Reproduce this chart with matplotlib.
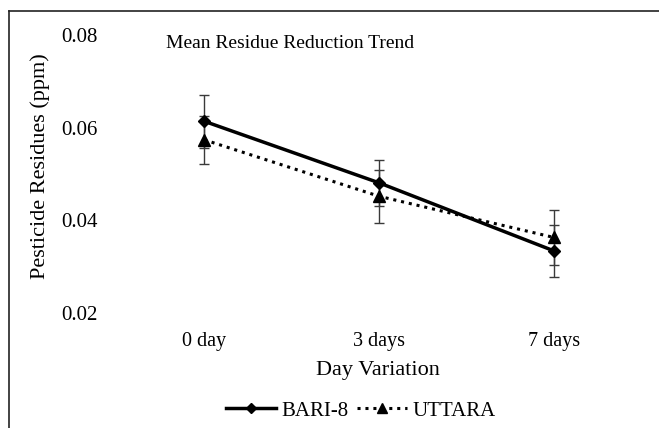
import numpy as np
import matplotlib.pyplot as plt
from matplotlib.lines import Line2D

days = ['0 day', '3 days', '7 days']
bari8 = [0.0614, 0.0481, 0.0334]
bari8_err = [0.0057, 0.0050, 0.0057]
uttara = [0.0574, 0.0452, 0.0363]
uttara_err = [0.0052, 0.0057, 0.0060]

plt.rcParams['font.family'] = ['Liberation Serif', 'DejaVu Serif']

fig = plt.figure(figsize=(6.59, 4.28), dpi=100)
ax = fig.add_axes([116.5/659, 1-313/428, 525/659, 278/428])

x = np.arange(len(days))
ax.errorbar(x, bari8, yerr=bari8_err, fmt='none', ecolor='#3a3a3a', elinewidth=1,
            capsize=3.5, capthick=1, zorder=2)
ax.errorbar(x, uttara, yerr=uttara_err, fmt='none', ecolor='#3a3a3a', elinewidth=1,
            capsize=3.5, capthick=1, zorder=2)
ax.plot(x, bari8, color='black', lw=2.5, marker='D', ms=6.5, zorder=3)
ax.plot(x, uttara, color='black', lw=2.2, ls=(0, (1, 1.6)), marker='^', ms=8, zorder=3)

ax.set_xlim(-0.5, 2.5)
ax.set_ylim(0.02, 0.08)
ax.set_yticks([0.02, 0.04, 0.06, 0.08])
ax.set_yticklabels(['0.02', '0.04', '0.06', '0.08'])
ax.set_xticks(x)
ax.set_xticklabels(days)
for s in ax.spines.values():
    s.set_visible(False)
ax.tick_params(length=0)
ax.tick_params(axis='y', pad=13.5, labelsize=15)
ax.tick_params(axis='x', pad=14, labelsize=14.5)

fig.text(40/659, 1-166/428, 'Pesticide Residues (ppm)', rotation=90, ha='center', va='center', fontsize=16)
fig.text(378/659, 1-370/428, 'Day Variation', ha='center', va='center', fontsize=16)
fig.text(290/659, 1-43/428, 'Mean Residue Reduction Trend', ha='center', va='center', fontsize=14)

handles = [Line2D([], [], color='black', lw=2.5, marker='D', ms=5.5),
           Line2D([], [], color='black', lw=2.2, ls=(0, (1, 1.6)), marker='^', ms=7)]
fig.legend(handles, ['BARI-8', 'UTTARA'], loc='center', bbox_to_anchor=(361/659, 1-411/428),
           ncol=2, frameon=False, fontsize=15, handlelength=2.4, columnspacing=0.4,
           handletextpad=0.25)

fig.add_artist(Line2D([9/659, 9/659], [0, 1-11/428], color='#222222', lw=1.2))
fig.add_artist(Line2D([9/659, 1], [1-11/428, 1-11/428], color='#222222', lw=1.2))

plt.savefig('out.png')
